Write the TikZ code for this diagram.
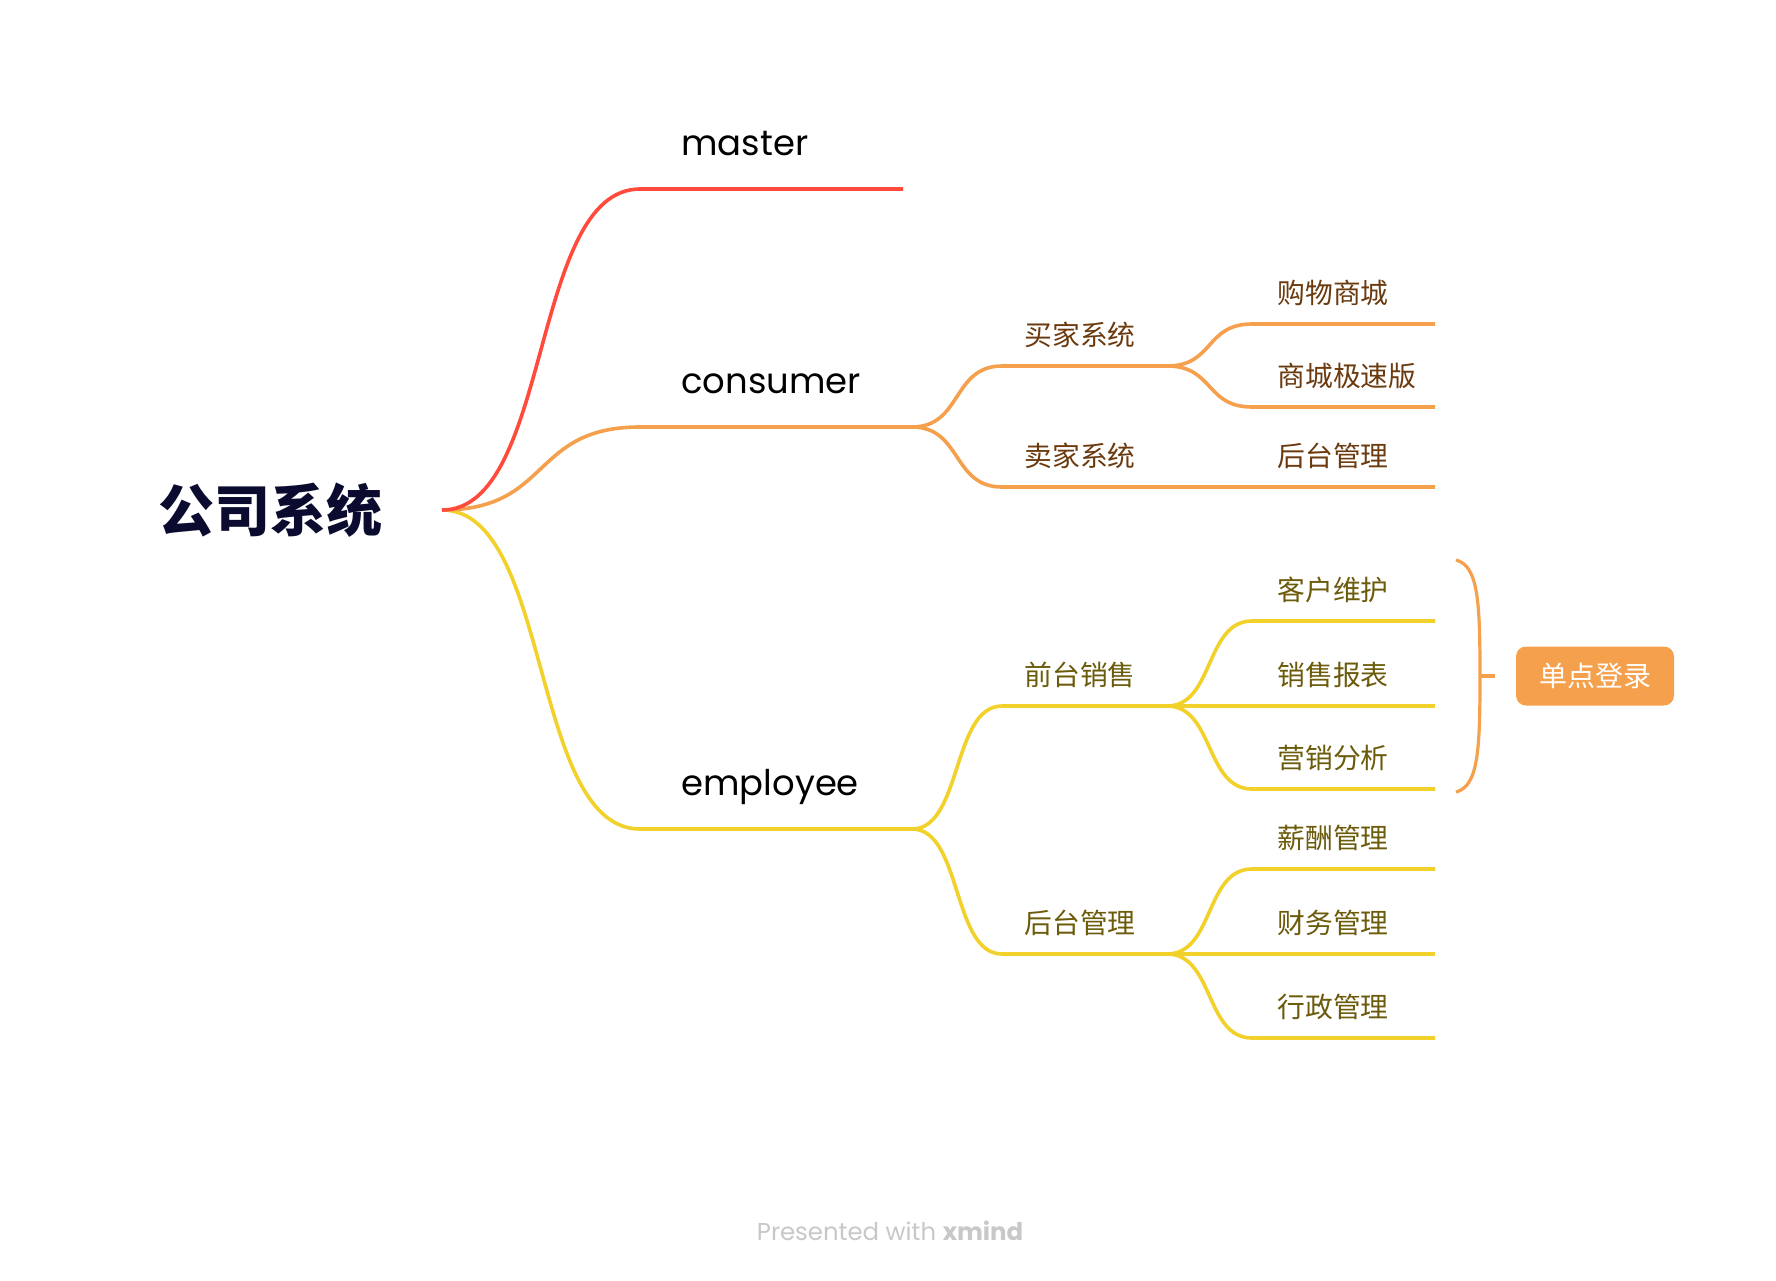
\documentclass[tikz,border=0pt]{standalone}
\usepackage{fontspec}
\setmainfont{Poppins}
\newfontfamily\cjk{Noto Sans CJK SC}
\usepackage{tikz}
\definecolor{mred}{HTML}{FF4A3C}
\definecolor{morange}{HTML}{F5A04D}
\definecolor{myellow}{HTML}{F2D12A}
\definecolor{mbrown}{HTML}{6B3A0E}
\definecolor{molive}{HTML}{6B5B0B}
\definecolor{mnavy}{HTML}{0B0B2F}
\definecolor{mgray}{HTML}{C8C8C8}

\begin{document}
\begin{tikzpicture}[x=0.5pt,y=-0.5pt]
                    \tikzstyle{every node}+=[inner sep=0pt]
                    \tikzstyle{topic}=[anchor=base west, font=\fontsize{17.7pt}{20pt}\selectfont, text=black]
                    \tikzstyle{subtopic}=[anchor=base west, font=\cjk\fontsize{13.9pt}{16pt}\selectfont]
                    \tikzstyle{wire}=[line width=1.8pt]
                    \fill [white] (0,0) rectangle (1776,1280);
                    \useasboundingbox (0,0) rectangle (1776,1280);
                    % root and the points the lines run through
                    \node [anchor=west, font=\cjk\bfseries\fontsize{28pt}{30pt}\selectfont, text=mnavy] (root) at (158,510) {公司系统};
                    \coordinate (o) at (442,510);
                    \coordinate (m-s) at (640,189);
                    \coordinate (m-e) at (903,189);
                    \coordinate (c-s) at (640,427);
                    \coordinate (c-e) at (912,427);
                    \coordinate (e-s) at (640,829);
                    \coordinate (e-e) at (912,829);
                    \coordinate (b-s) at (1002,366);
                    \coordinate (b-e) at (1167,366);
                    \coordinate (s-s) at (1002,487);
                    \coordinate (s-e) at (1252,487);
                    \coordinate (b1-s) at (1252,324);
                    \coordinate (b1-e) at (1435,324);
                    \coordinate (b2-s) at (1252,407);
                    \coordinate (b2-e) at (1435,407);
                    \coordinate (s1-e) at (1435,487);
                    \coordinate (f-s) at (1002,706);
                    \coordinate (f-e) at (1167,706);
                    \coordinate (f1-s) at (1252,621);
                    \coordinate (f1-e) at (1435,621);
                    \coordinate (f2-s) at (1252,706);
                    \coordinate (f2-e) at (1435,706);
                    \coordinate (f3-s) at (1252,789);
                    \coordinate (f3-e) at (1435,789);
                    \coordinate (k-s) at (1002,954);
                    \coordinate (k-e) at (1167,954);
                    \coordinate (k1-s) at (1252,869);
                    \coordinate (k1-e) at (1435,869);
                    \coordinate (k2-s) at (1252,954);
                    \coordinate (k2-e) at (1435,954);
                    \coordinate (k3-s) at (1252,1038);
                    \coordinate (k3-e) at (1435,1038);
                    % employee
                    \draw [wire, myellow] (o) .. controls +(110,0) and +(-110,0) .. (e-s) -- (e-e);
                    \draw [wire, myellow] (e-e) .. controls +(50,0) and +(-50,0) .. (f-s) -- (f-e);
                    \draw [wire, myellow] (e-e) .. controls +(50,0) and +(-50,0) .. (k-s) -- (k-e);
                    \draw [wire, myellow] (f-e) .. controls +(47,0) and +(-47,0) .. (f1-s) -- (f1-e);
                    \draw [wire, myellow] (f-e) -- (f2-s) -- (f2-e);
                    \draw [wire, myellow] (f-e) .. controls +(47,0) and +(-47,0) .. (f3-s) -- (f3-e);
                    \draw [wire, myellow] (k-e) .. controls +(47,0) and +(-47,0) .. (k1-s) -- (k1-e);
                    \draw [wire, myellow] (k-e) -- (k2-s) -- (k2-e);
                    \draw [wire, myellow] (k-e) .. controls +(47,0) and +(-47,0) .. (k3-s) -- (k3-e);
                    % consumer
                    \draw [wire, morange] (o) .. controls +(110,0) and +(-110,0) .. (c-s) -- (c-e);
                    \draw [wire, morange] (c-e) .. controls +(50,0) and +(-50,0) .. (b-s) -- (b-e);
                    \draw [wire, morange] (c-e) .. controls +(50,0) and +(-50,0) .. (s-s) -- (s-e) -- (s1-e);
                    \draw [wire, morange] (b-e) .. controls +(47,0) and +(-47,0) .. (b1-s) -- (b1-e);
                    \draw [wire, morange] (b-e) .. controls +(47,0) and +(-47,0) .. (b2-s) -- (b2-e);
                    % master
                    \draw [wire, mred] (o) .. controls +(110,0) and +(-110,0) .. (m-s) -- (m-e);
                    % labels
                    \node [topic] (master) at (681,155) {master};
                    \node [topic] (consumer) at (681,393) {consumer};
                    \node [topic] (employee) at (681,795) {employee};
                    \node [subtopic, text=mbrown] (buyer) at (1024,345) {买家系统};
                    \node [subtopic, text=mbrown] (seller) at (1024,466) {卖家系统};
                    \node [subtopic, text=mbrown] (mall) at (1277,303) {购物商城};
                    \node [subtopic, text=mbrown] (lite) at (1277,386) {商城极速版};
                    \node [subtopic, text=mbrown] (admin) at (1277,466) {后台管理};
                    \node [subtopic, text=molive] (front) at (1024,685) {前台销售};
                    \node [subtopic, text=molive] (back) at (1024,933) {后台管理};
                    \node [subtopic, text=molive] (care) at (1277,600) {客户维护};
                    \node [subtopic, text=molive] (report) at (1277,685) {销售报表};
                    \node [subtopic, text=molive] (market) at (1277,768) {营销分析};
                    \node [subtopic, text=molive] (pay) at (1277,848) {薪酬管理};
                    \node [subtopic, text=molive] (finance) at (1277,933) {财务管理};
                    \node [subtopic, text=molive] (office) at (1277,1017) {行政管理};
                    % summary brace
                    \coordinate (br-t) at (1456,560);
                    \coordinate (br-m) at (1480,676);
                    \coordinate (br-b) at (1456,792);
                    \coordinate (br-tip) at (1495,676);
                    \draw [morange, line width=1.6pt] (br-t) .. controls (1478,566) and (1480,600) .. (br-m) .. controls (1480,752) and (1478,786) .. (br-b);
                    \draw [morange, line width=1.6pt] (br-m) -- (br-tip);
                    \node [fill=morange, rounded corners=5pt, minimum width=79pt, minimum height=29.5pt, text=white, font=\cjk\fontsize{14pt}{16pt}\selectfont] (sso) at (1595,676) {单点登录};
                    \node [font=\fontsize{12.2pt}{14pt}\selectfont, text=mgray] (credit) at (890,1231) {Presented with \textbf{xmind}};
\end{tikzpicture}
\end{document}
